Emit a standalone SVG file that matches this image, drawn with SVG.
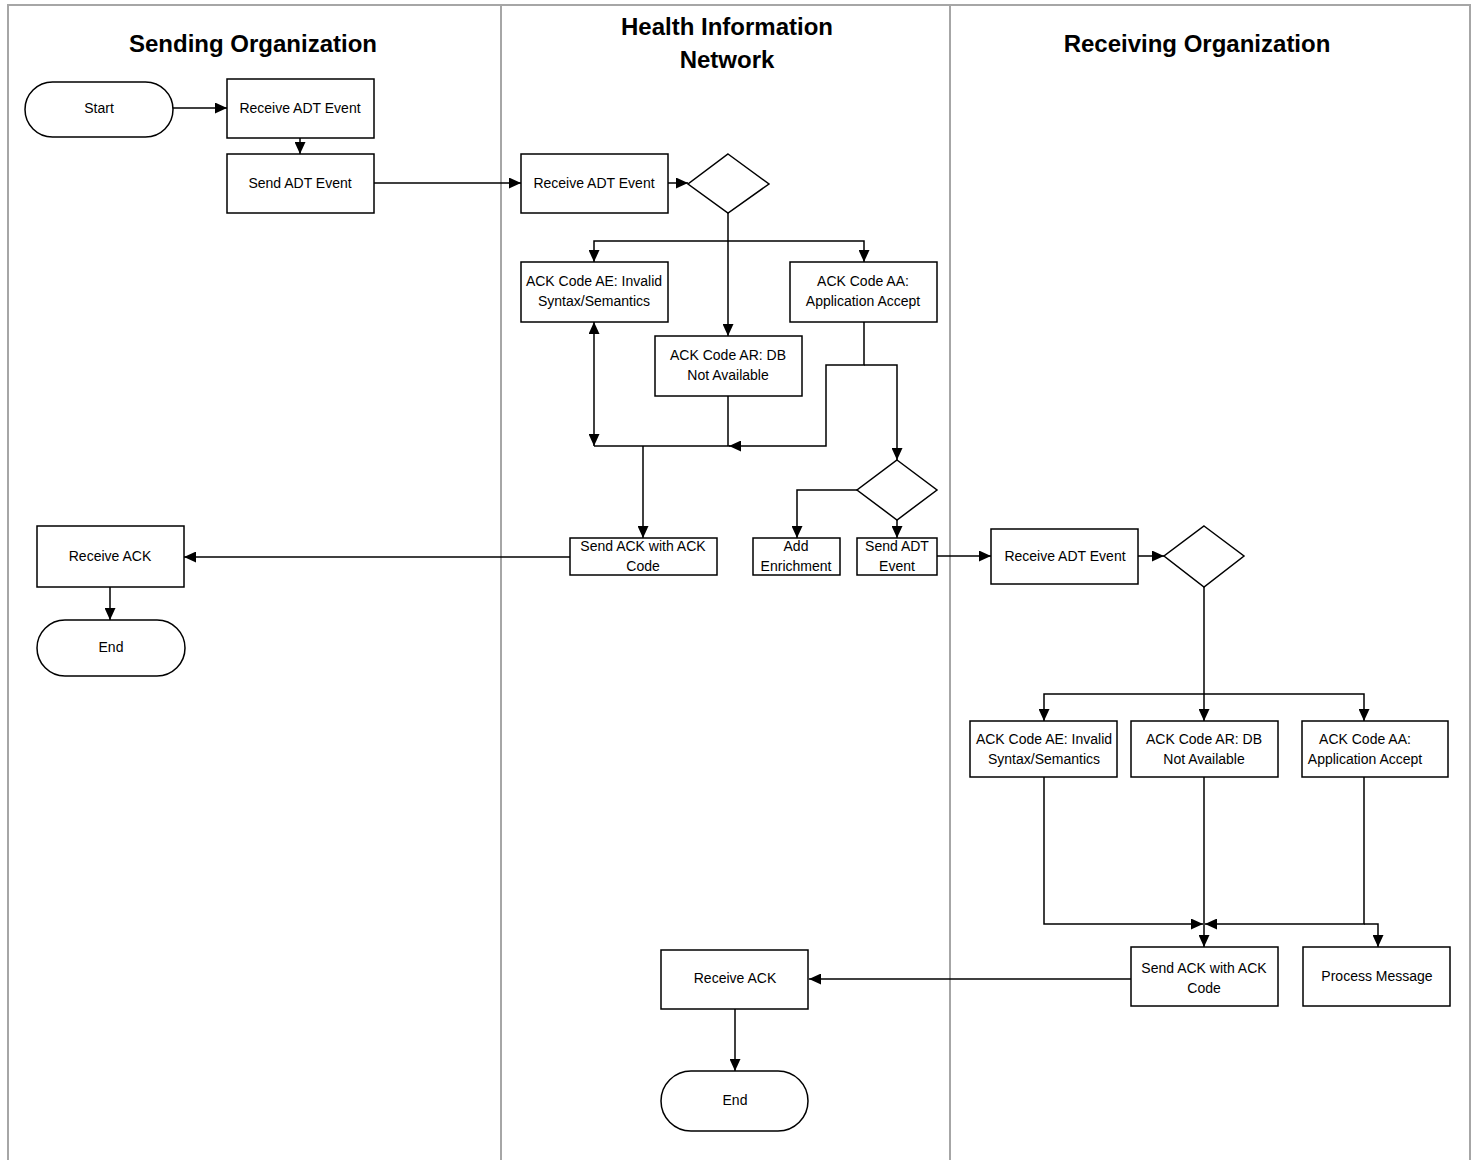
<svg xmlns="http://www.w3.org/2000/svg" width="1477" height="1160" viewBox="0 0 1477 1160">
<style>
.lane{stroke:#a6a6a6;stroke-width:2;fill:none}
.box{fill:#fff;stroke:#000;stroke-width:1.5}
.t{font-family:"Liberation Sans",Arial,sans-serif;font-size:14px;fill:#000;text-anchor:middle}
.h{font-family:"Liberation Sans",Arial,sans-serif;font-size:24px;font-weight:bold;fill:#000;text-anchor:middle}
.c{stroke:#000;stroke-width:1.5;fill:none}
</style>
<defs>
<marker id="ah" markerUnits="userSpaceOnUse" markerWidth="13" markerHeight="11" refX="12" refY="5.5" orient="auto-start-reverse">
<path d="M0,0 L12,5.5 L0,11 z" fill="#000"/>
</marker>
</defs>
<rect width="1477" height="1160" fill="#fff"/>
<g id="lanes">
<line class="lane" x1="7" y1="5" x2="1471" y2="5"/>
<line class="lane" x1="8" y1="5" x2="8" y2="1160"/>
<line class="lane" x1="501" y1="5" x2="501" y2="1160"/>
<line class="lane" x1="950" y1="5" x2="950" y2="1160"/>
<line class="lane" x1="1470" y1="5" x2="1470" y2="1160"/>
<text class="h" x="253" y="52">Sending Organization</text>
<text class="h" x="727" y="35">Health Information</text>
<text class="h" x="727" y="68">Network</text>
<text class="h" x="1197" y="52">Receiving Organization</text>
</g>
<g id="connectors">
<line class="c" x1="173" y1="108" x2="227" y2="108" marker-end="url(#ah)"/>
<line class="c" x1="300" y1="138" x2="300" y2="154" marker-end="url(#ah)"/>
<line class="c" x1="374" y1="183" x2="521" y2="183" marker-end="url(#ah)"/>
<line class="c" x1="668" y1="183" x2="688" y2="183" marker-end="url(#ah)"/>
<line class="c" x1="728" y1="213" x2="728" y2="336" marker-end="url(#ah)"/>
<polyline class="c" points="728,241 594,241 594,262" marker-end="url(#ah)"/>
<polyline class="c" points="728,241 864,241 864,262" marker-end="url(#ah)"/>
<line class="c" x1="594" y1="322" x2="594" y2="446" marker-start="url(#ah)" marker-end="url(#ah)"/>
<line class="c" x1="594" y1="446" x2="730" y2="446"/>
<line class="c" x1="728" y1="396" x2="728" y2="446"/>
<polyline class="c" points="864,322 864,365 826,365 826,446 729,446" marker-end="url(#ah)"/>
<polyline class="c" points="864,365 897,365 897,460" marker-end="url(#ah)"/>
<line class="c" x1="643" y1="446" x2="643" y2="538" marker-end="url(#ah)"/>
<polyline class="c" points="857,490 797,490 797,538" marker-end="url(#ah)"/>
<line class="c" x1="897" y1="520" x2="897" y2="538" marker-end="url(#ah)"/>
<line class="c" x1="570" y1="557" x2="184" y2="557" marker-end="url(#ah)"/>
<line class="c" x1="110" y1="587" x2="110" y2="620" marker-end="url(#ah)"/>
<line class="c" x1="937" y1="556" x2="991" y2="556" marker-end="url(#ah)"/>
<line class="c" x1="1138" y1="556" x2="1164" y2="556" marker-end="url(#ah)"/>
<line class="c" x1="1204" y1="587" x2="1204" y2="721" marker-end="url(#ah)"/>
<polyline class="c" points="1204,694 1044,694 1044,721" marker-end="url(#ah)"/>
<polyline class="c" points="1204,694 1364,694 1364,721" marker-end="url(#ah)"/>
<polyline class="c" points="1044,777 1044,924 1203,924" marker-end="url(#ah)"/>
<polyline class="c" points="1364,777 1364,924 1205,924" marker-end="url(#ah)"/>
<polyline class="c" points="1364,924 1378,924 1378,947" marker-end="url(#ah)"/>
<line class="c" x1="1204" y1="777" x2="1204" y2="947" marker-end="url(#ah)"/>
<line class="c" x1="1131" y1="979" x2="809" y2="979" marker-end="url(#ah)"/>
<line class="c" x1="735" y1="1009" x2="735" y2="1071" marker-end="url(#ah)"/>
</g>
<g id="s_start"><rect class="box" x="25" y="82" width="148" height="55" rx="27.5"/><text class="t" x="99" y="113">Start</text></g>
<g id="s_recv_adt"><rect class="box" x="227" y="79" width="147" height="59"/><text class="t" x="300" y="113">Receive ADT Event</text></g>
<g id="s_send_adt"><rect class="box" x="227" y="154" width="147" height="59"/><text class="t" x="300" y="188">Send ADT Event</text></g>
<g id="s_recv_ack"><rect class="box" x="37" y="526" width="147" height="61"/><text class="t" x="110" y="561">Receive ACK</text></g>
<g id="s_end"><rect class="box" x="37" y="620" width="148" height="56" rx="28"/><text class="t" x="111" y="652">End</text></g>
<g id="h_recv_adt"><rect class="box" x="521" y="154" width="147" height="59"/><text class="t" x="594" y="188">Receive ADT Event</text></g>
<g id="h_dec1"><polygon class="box" points="728,154 769,184 728,213 688,184"/></g>
<g id="h_ae"><rect class="box" x="521" y="262" width="147" height="60"/><text class="t" x="594" y="286">ACK Code AE: Invalid</text><text class="t" x="594" y="306">Syntax/Semantics</text></g>
<g id="h_aa"><rect class="box" x="790" y="262" width="147" height="60"/><text class="t" x="863" y="286">ACK Code AA:</text><text class="t" x="863" y="306">Application Accept</text></g>
<g id="h_ar"><rect class="box" x="655" y="336" width="147" height="60"/><text class="t" x="728" y="360">ACK Code AR: DB</text><text class="t" x="728" y="380">Not Available</text></g>
<g id="h_dec2"><polygon class="box" points="897,460 937,490 897,520 857,490"/></g>
<g id="h_send_ack"><rect class="box" x="570" y="538" width="147" height="37"/><text class="t" x="643" y="551">Send ACK with ACK</text><text class="t" x="643" y="571">Code</text></g>
<g id="h_enrich"><rect class="box" x="753" y="538" width="87" height="37"/><text class="t" x="796" y="551">Add</text><text class="t" x="796" y="571">Enrichment</text></g>
<g id="h_send_adt"><rect class="box" x="857" y="538" width="80" height="37"/><text class="t" x="897" y="551">Send ADT</text><text class="t" x="897" y="571">Event</text></g>
<g id="h_recv_ack"><rect class="box" x="661" y="950" width="147" height="59"/><text class="t" x="735" y="983">Receive ACK</text></g>
<g id="h_end"><rect class="box" x="661" y="1071" width="147" height="60" rx="30"/><text class="t" x="735" y="1105">End</text></g>
<g id="r_recv_adt"><rect class="box" x="991" y="529" width="147" height="55"/><text class="t" x="1065" y="561">Receive ADT Event</text></g>
<g id="r_dec"><polygon class="box" points="1204,526 1244,556 1204,587 1164,556"/></g>
<g id="r_ae"><rect class="box" x="970" y="721" width="147" height="56"/><text class="t" x="1044" y="744">ACK Code AE: Invalid</text><text class="t" x="1044" y="764">Syntax/Semantics</text></g>
<g id="r_ar"><rect class="box" x="1131" y="721" width="147" height="56"/><text class="t" x="1204" y="744">ACK Code AR: DB</text><text class="t" x="1204" y="764">Not Available</text></g>
<g id="r_aa"><rect class="box" x="1302" y="721" width="146" height="56"/><text class="t" x="1365" y="744">ACK Code AA:</text><text class="t" x="1365" y="764">Application Accept</text></g>
<g id="r_send_ack"><rect class="box" x="1131" y="947" width="147" height="59"/><text class="t" x="1204" y="973">Send ACK with ACK</text><text class="t" x="1204" y="993">Code</text></g>
<g id="r_process"><rect class="box" x="1303" y="947" width="147" height="59"/><text class="t" x="1377" y="981">Process Message</text></g>
</svg>
